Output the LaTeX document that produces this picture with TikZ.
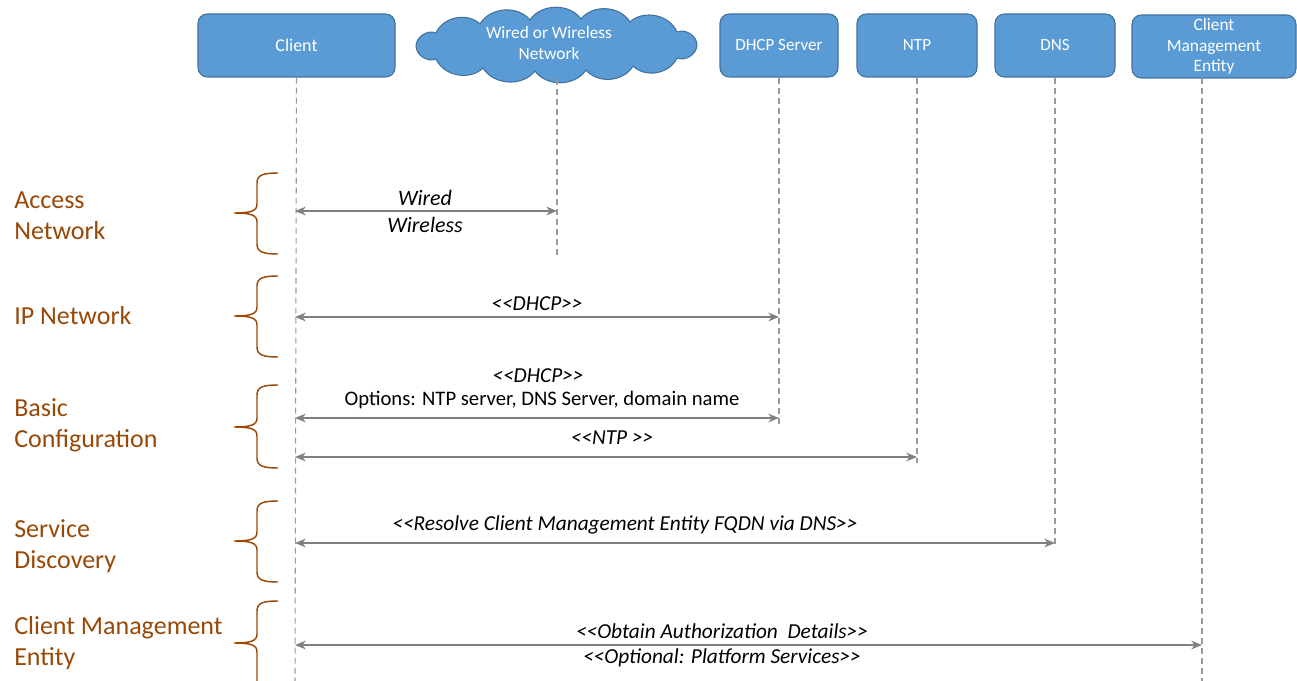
\documentclass[tikz,border=0pt]{standalone}
\usepackage{fontspec}
\setmainfont{Carlito}
\usetikzlibrary{arrows.meta}

\definecolor{boxfill}{HTML}{5B9BD5}
\definecolor{boxline}{HTML}{41719C}
\definecolor{phase}{HTML}{984807}
\definecolor{msg}{HTML}{808080}
\definecolor{life}{HTML}{9A9A9A}

\tikzset{
  actor/.style={draw=boxline, line width=0.8pt, fill=boxfill, rounded corners=7pt,
    text=white, font=\fontsize{12.8}{15.4}\selectfont, align=center, inner sep=0pt},
  cloudline/.style={draw=boxline, line width=0.8pt, fill=boxfill},
  lifeline/.style={draw=life, line width=0.8pt, dash pattern=on 4.5pt off 3pt},
  msgarrow/.style={draw=msg, line width=1.3pt,
    {Stealth[length=8pt,width=6.5pt,inset=2.5pt]}-{Stealth[length=8pt,width=6.5pt,inset=2.5pt]}},
  msglabel/.style={font=\fontsize{16}{19}\selectfont\itshape, inner sep=0pt},
  phaselabel/.style={text=phase, font=\fontsize{19.5}{23.5}\selectfont, align=left,
    anchor=west, inner sep=0pt},
  phasebrace/.style={draw=phase, line width=1.1pt},
}

% brace opening to the right: top y, tip y, bottom y
\newcommand{\phbrace}[3]{%
  \draw[phasebrace] (278,#1) .. controls (263,#1) and (257,#1+2) .. (257,#1+10)
    -- (257,#2-9) .. controls (257,#2-2) and (251,#2) .. (234,#2)
    .. controls (251,#2) and (257,#2+2) .. (257,#2+9)
    -- (257,#3-10) .. controls (257,#3-2) and (263,#3) .. (278,#3);}

\begin{document}
\begin{tikzpicture}[x=0.75pt,y=-0.75pt]
\useasboundingbox (0,0) rectangle (1297,681);

% participants
\node[actor, minimum width=197*0.75pt, minimum height=63*0.75pt,
      font=\fontsize{13.5}{16}\selectfont] (client) at (296.5,45.5) {Client};

% network cloud: puffs joined around an ellipse
\draw[cloudline] (697,45) to[bend right=55] (677,32) to[bend right=55] (630,22)
  to[bend right=55] (581,19) to[bend right=55] (530,20) to[bend right=55] (480,24)
  to[bend right=55] (436,33) to[bend right=55] (416,46) to[bend right=55] (436,59)
  to[bend right=55] (483,68) to[bend right=55] (535,71) to[bend right=55] (586,70)
  to[bend right=55] (633,66) to[bend right=55] (677,58) to[bend right=55] cycle;
\node[text=white, font=\fontsize{13}{15.5}\selectfont, align=center, inner sep=0pt] (net) at (549,43) {Wired or Wireless\\Network};

\node[actor, minimum width=118*0.75pt, minimum height=63*0.75pt] (dhcp) at (779,45.5) {DHCP Server};
\node[actor, minimum width=120*0.75pt, minimum height=63*0.75pt] (ntp) at (917,45.5) {NTP};
\node[actor, minimum width=120*0.75pt, minimum height=63*0.75pt] (dns) at (1055,45.5) {DNS};
\node[actor, minimum width=164*0.75pt, minimum height=63*0.75pt,
      font=\fontsize{13}{15.4}\selectfont] (cme) at (1214,46.5) {Client\\Management\\Entity};

% lifeline ends
\coordinate (clientEnd) at (295,681);
\coordinate (netTop) at (557,79);
\coordinate (netEnd) at (557,256);
\coordinate (dhcpEnd) at (779,425);
\coordinate (ntpEnd) at (917,463);
\coordinate (dnsEnd) at (1055,546);
\coordinate (cmeEnd) at (1202,681);

\draw[lifeline] (client.south) -- (clientEnd);
\draw[lifeline] (netTop) -- (netEnd);
\draw[lifeline] (dhcp.south) -- (dhcpEnd);
\draw[lifeline] (ntp.south) -- (ntpEnd);
\draw[lifeline] (dns.south) -- (dnsEnd);
\draw[lifeline] (1202,78) -- (cmeEnd);

% message end points on the lifelines
\coordinate (cA) at (295,211);  \coordinate (nA) at (557,211);
\coordinate (cB) at (295,317);  \coordinate (dB) at (779,317);
\coordinate (cC) at (295,418);  \coordinate (dC) at (779,418);
\coordinate (cD) at (295,457);  \coordinate (tD) at (917,457);
\coordinate (cE) at (295,543);  \coordinate (sE) at (1055,543);
\coordinate (cF) at (295,645);  \coordinate (mF) at (1202,645);

% messages
\draw[msgarrow] (cA) -- (nA);
\node[msglabel, font=\fontsize{16.5}{19}\selectfont\itshape] (lwired) at (425,198) {Wired};
\node[msglabel, font=\fontsize{16.5}{19}\selectfont\itshape] (lwireless) at (425,225) {Wireless};

\draw[msgarrow] (cB) -- (dB);
\node[msglabel] (ldhcp1) at (537,304) {<{}<DHCP>{}>};

\draw[msgarrow] (cC) -- (dC);
\node[msglabel] (ldhcp2) at (538,376) {<{}<DHCP>{}>};
\node[msglabel, font=\fontsize{15.5}{18}\selectfont] (lopts) at (542,400) {Options: NTP server, DNS Server, domain name};

\draw[msgarrow] (cD) -- (tD);
\node[msglabel] (lntp) at (612,438) {<{}<NTP >{}>};

\draw[msgarrow] (cE) -- (sE);
\node[msglabel] (ldns) at (625,525) {<{}<Resolve Client Management Entity FQDN via DNS>{}>};

\draw[msgarrow] (cF) -- (mF);
\node[msglabel] (lauth) at (722,631) {<{}<Obtain Authorization\ \ Details>{}>};
\node[msglabel] (lplat) at (722,658) {<{}<Optional: Platform Services>{}>};

% phases
\node[phaselabel] (pAccess) at (14,215.5) {Access\\Network};
\node[phaselabel] (pIP) at (14,316) {IP Network};
\node[phaselabel] (pBasic) at (14,425) {Basic\\Configuration};
\node[phaselabel] (pService) at (14,546) {Service\\Discovery};
\node[phaselabel] (pCME) at (14,643) {Client Management\\Entity};

\phbrace{173}{213}{254}
\phbrace{276}{316}{357}
\phbrace{385}{427}{468}
\phbrace{501}{541}{582}
\draw[phasebrace] (278,601) .. controls (263,601) and (257,603) .. (257,611)
  -- (257,634) .. controls (257,641) and (251,643) .. (234,643)
  .. controls (251,643) and (257,645) .. (257,652) -- (257,681);
\end{tikzpicture}
\end{document}
